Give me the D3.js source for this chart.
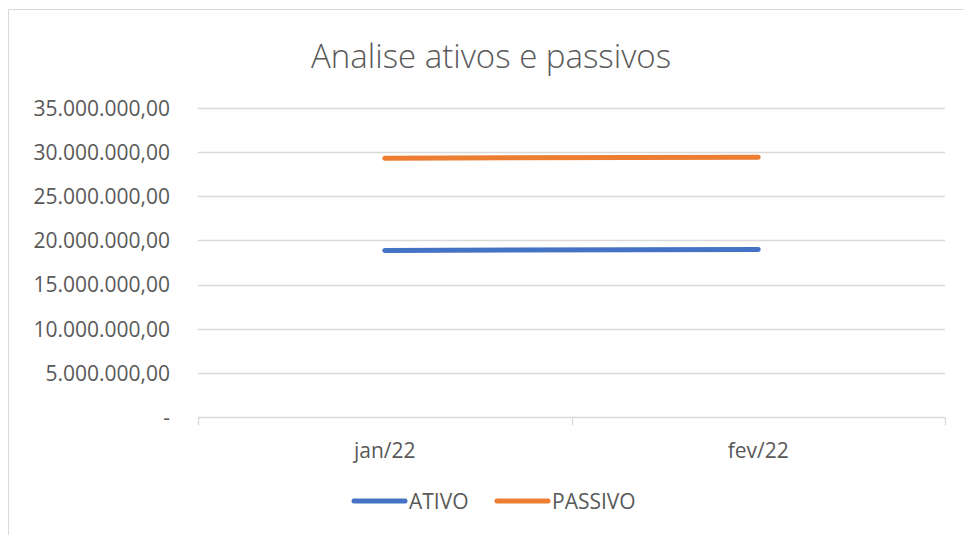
<!DOCTYPE html>
<html><head><meta charset="utf-8">
<script src="https://cdn.jsdelivr.net/npm/d3@7"></script>
<style>body{margin:0;background:#fff;} text{font-family:"Open Sans","Liberation Sans",sans-serif;fill:#595959;}</style>
</head><body><svg id="c" width="964" height="535"></svg>
<script>
const categories = ["jan/22", "fev/22"];
const ativo = [18870000, 18980000];
const passivo = [29320000, 29430000];
const yTicks = [0, 5000000, 10000000, 15000000, 20000000, 25000000, 30000000, 35000000];
const seriesNames = ["ATIVO", "PASSIVO"];
const colors = ["#4472C4", "#ED7D31"];

const svg = d3.select("#c");
svg.append("rect").attr("x",8.5).attr("y",9.5).attr("width",970).attr("height",540)
  .attr("fill","#fff").attr("stroke","#d9d9d9");

const x = d3.scaleBand().domain(categories).range([198, 945]);
const y = d3.scaleLinear().domain([0, 35000000]).range([417, 108]);

svg.append("text").attr("x",491).attr("y",68).attr("text-anchor","middle")
  .style("font-size","33px").style("font-weight","300").text("Analise ativos e passivos");

const fmt = v => v === 0 ? "-" : d3.formatLocale({decimal:",",thousands:".",grouping:[3],currency:["",""]}).format(",.2f")(v);

svg.append("g").selectAll("line").data(yTicks.filter(d=>d>0)).join("line")
  .attr("x1",198).attr("x2",945).attr("y1",d=>Math.round(y(d))+0.5).attr("y2",d=>Math.round(y(d))+0.5)
  .attr("stroke","#d9d9d9").attr("stroke-width",1.3);

const yAxis = svg.append("g").attr("transform","translate(172,0)")
  .call(d3.axisLeft(y).tickValues(yTicks).tickFormat(fmt).tickSize(0));
yAxis.select(".domain").remove();
yAxis.selectAll("text").attr("x",-2).attr("dy","0.35em").style("font-size","21px").style("fill","#595959");

const xAxis = svg.append("g").attr("transform","translate(0,417.5)");
xAxis.append("line").attr("x1",198).attr("x2",945).attr("stroke","#d9d9d9").attr("stroke-width",1.3);
const bounds = [x(categories[0]), ...categories.map(c=>x(c)+x.bandwidth())];
xAxis.selectAll(".tk").data(bounds).join("line").attr("class","tk")
  .attr("x1",d=>Math.round(d)+0.5).attr("x2",d=>Math.round(d)+0.5).attr("y1",0).attr("y2",8)
  .attr("stroke","#d9d9d9").attr("stroke-width",1.3);
xAxis.selectAll(".lb").data(categories).join("text").attr("class","lb")
  .attr("x",d=>x(d)+x.bandwidth()/2).attr("y",40).attr("text-anchor","middle")
  .style("font-size","21px").text(d=>d);

const line = d3.line().x((d,i)=>x(categories[i])+x.bandwidth()/2).y(d=>y(d));
[ativo, passivo].forEach((s,i)=>{
  svg.append("path").datum(s).attr("d",line).attr("fill","none")
    .attr("stroke",colors[i]).attr("stroke-width",5).attr("stroke-linecap","round");
});

const leg = [{x:354, tx:409},{x:497, tx:552}];
seriesNames.forEach((n,i)=>{
  svg.append("line").attr("x1",leg[i].x).attr("x2",leg[i].x+51).attr("y1",501).attr("y2",501)
    .attr("stroke",colors[i]).attr("stroke-width",5).attr("stroke-linecap","round");
  svg.append("text").attr("x",leg[i].tx).attr("y",509).style("font-size","21px").text(n);
});
</script></body></html>
